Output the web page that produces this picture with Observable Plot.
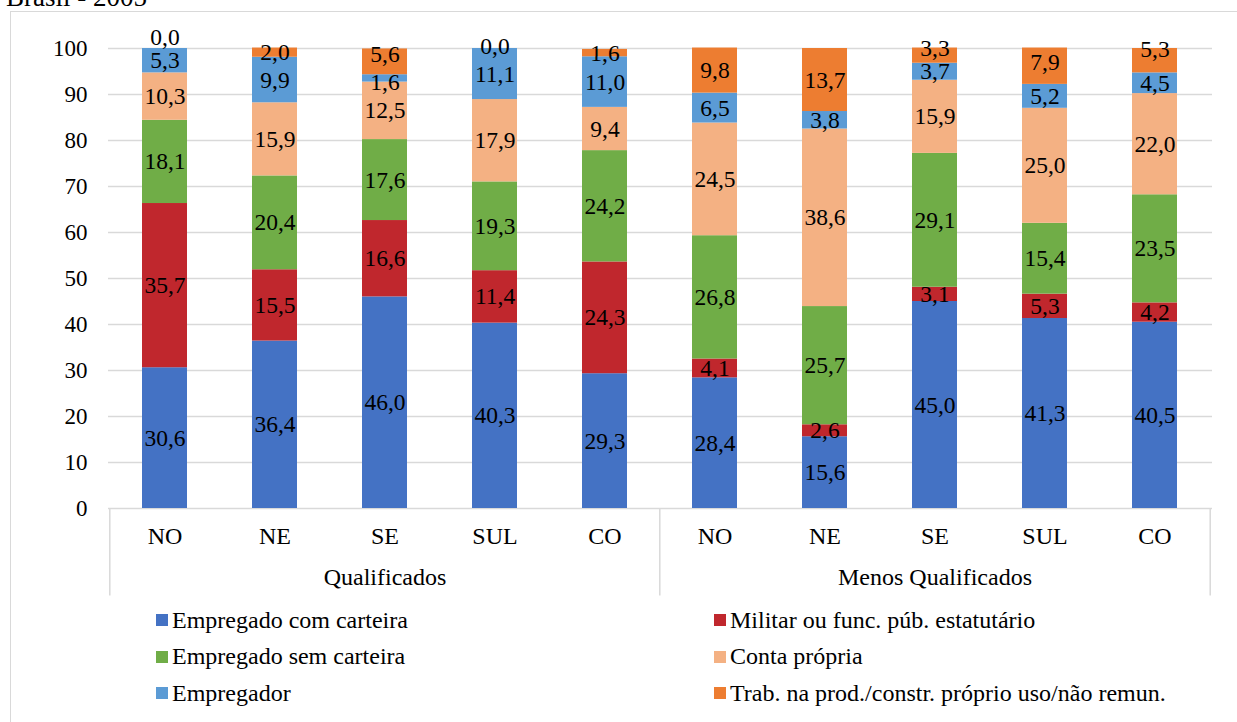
<!DOCTYPE html>
<html>
<head>
<meta charset="utf-8">
<script src="https://cdn.jsdelivr.net/npm/d3@7"></script>
<script src="https://cdn.jsdelivr.net/npm/@observablehq/plot@0.6"></script>
<style>
  html, body { margin: 0; padding: 0; background: #fff; }
  body { position: relative; width: 1237px; height: 722px; overflow: hidden;
         font-family: "Liberation Serif", "Times New Roman", serif; color: #000; }
  #frame { position: absolute; left: 10px; top: 11px; width: 1400px; height: 900px;
           border: 1.5px solid #d9d9d9; box-sizing: border-box; z-index: 5; pointer-events: none; }
  #title { position: absolute; left: 6px; top: -16px; font-size: 27px; line-height: 26px; white-space: nowrap; }
  #chart svg { display: block; }
  .legend { display: grid; grid-template-columns: 558px auto; padding-left: 156px; margin-top: 2px; font-size: 24px; }
  .item { height: 36.5px; display: flex; align-items: center; white-space: nowrap; }
  .sw { width: 12px; height: 12px; margin-right: 4px; flex: none; }
</style>
</head>
<body>
<div id="title">Brasil - 2005</div>
<div id="chart"></div>
<div class="legend" id="legend"></div>
<div id="frame"></div>
<script>
// ---- data ----
const grupos = ["Qualificados", "Menos Qualificados"];
const regioes = ["NO", "NE", "SE", "SUL", "CO"];
const series = [
  "Empregado com carteira",
  "Militar ou func. púb. estatutário",
  "Empregado sem carteira",
  "Conta própria",
  "Empregador",
  "Trab. na prod./constr. próprio uso/não remun."
];
const cores = ["#4472C4", "#C0272D", "#70AD47", "#F4B183", "#5B9BD5", "#ED7D31"];
// values per bar: Qualificados NO, NE, SE, SUL, CO, then Menos Qualificados NO, NE, SE, SUL, CO
const empregadoComCarteira = [30.6, 36.4, 46.0, 40.3, 29.3, 28.4, 15.6, 45.0, 41.3, 40.5];
const militarEstatutario   = [35.7, 15.5, 16.6, 11.4, 24.3,  4.1,  2.6,  3.1,  5.3,  4.2];
const empregadoSemCarteira = [18.1, 20.4, 17.6, 19.3, 24.2, 26.8, 25.7, 29.1, 15.4, 23.5];
const contaPropria         = [10.3, 15.9, 12.5, 17.9,  9.4, 24.5, 38.6, 15.9, 25.0, 22.0];
const empregador           = [ 5.3,  9.9,  1.6, 11.1, 11.0,  6.5,  3.8,  3.7,  5.2,  4.5];
const trabProprioUso       = [ 0.0,  2.0,  5.6,  0.0,  1.6,  9.8, 13.7,  3.3,  7.9,  5.3];
const valores = [empregadoComCarteira, militarEstatutario, empregadoSemCarteira, contaPropria, empregador, trabProprioUso];

// ---- build table ----
const keys = [];
for (const g of grupos) for (const r of regioes) keys.push(g + "|" + r);
const rows = [];
series.forEach((s, si) => keys.forEach((k, ki) => rows.push({key: k, serie: s, si, value: valores[si][ki]})));

// small manual label nudges (as in the original, to avoid overlaps)
const nudge = {
  "Qualificados|NO|5": -11,
  "Qualificados|SUL|5": -2,
  "Qualificados|SE|5": -7,
  "Qualificados|SE|4": 4,
  "Menos Qualificados|SE|5": -7,
  "Menos Qualificados|CO|5": -11,
  "Menos Qualificados|SUL|5": -4
};
const nudgeOf = d => nudge[d.key + "|" + d.si] || 0;
const nudgeVals = Array.from(new Set([0, ...Object.values(nudge)]));
const fmt = v => v.toFixed(1).replace(".", ",");

const W = 1237, H = 600, mL = 108, mR = 25, mT = 48, mB = 92;
const step = (W - mL - mR) / keys.length;
const FONT = "'Liberation Serif', 'Times New Roman', serif";

const labelMarks = nudgeVals.map(n =>
  Plot.text(rows, Plot.stackY({
    x: "key", y: "value", z: "serie",
    text: d => (nudgeOf(d) === n ? fmt(d.value) : null),
    dy: n, fill: "#000", fontSize: 23.5, fontFamily: FONT
  }))
);

const chart = Plot.plot({
  width: W, height: H,
  marginLeft: mL, marginRight: mR, marginTop: mT, marginBottom: mB,
  style: {fontFamily: FONT, fontSize: "24px", color: "#000", background: "transparent"},
  x: {domain: keys, paddingInner: 0.59, paddingOuter: 0.295, label: null},
  y: {domain: [0, 100], label: null},
  color: {domain: series, range: cores},
  marks: [
    Plot.gridY({ticks: d3.range(0, 101, 10), stroke: "#d9d9d9", strokeOpacity: 1, strokeWidth: 1.5}),
    Plot.barY(rows, Plot.stackY({x: "key", y: "value", z: "serie", fill: "serie"})),
    Plot.axisY({ticks: d3.range(0, 101, 10), tickSize: 0, tickPadding: 21, fontSize: 23, fontFamily: FONT, label: null}),
    Plot.axisX({tickSize: 0, tickPadding: 18, fontSize: 24, fontFamily: FONT, label: null, tickFormat: d => d.split("|")[1]}),
    Plot.ruleX([keys[0], keys[5]], {x: d => d, dx: -step / 2, y1: 0, y2: -19, stroke: "#d9d9d9", strokeWidth: 1.5}),
    Plot.ruleX([keys[9]], {x: d => d, dx: step / 2, y1: 0, y2: -19, stroke: "#d9d9d9", strokeWidth: 1.5}),
    Plot.text(grupos, {x: g => g + "|SE", text: d => d, frameAnchor: "bottom", dy: 76, fill: "#000", fontSize: 24, fontFamily: FONT}),
    ...labelMarks
  ]
});
document.getElementById("chart").appendChild(chart);

// ---- legend ----
const leg = document.getElementById("legend");
series.forEach((s, i) => {
  const it = document.createElement("div");
  it.className = "item";
  const sw = document.createElement("span");
  sw.className = "sw";
  sw.style.background = cores[i];
  const tx = document.createElement("span");
  tx.textContent = s;
  it.appendChild(sw); it.appendChild(tx);
  leg.appendChild(it);
});
</script>
</body>
</html>
